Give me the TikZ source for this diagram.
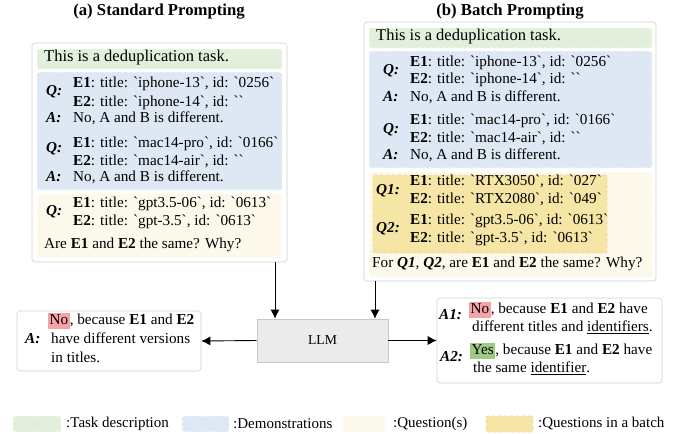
\documentclass[tikz,border=0pt]{standalone}
\usepackage{fontspec}
\setmainfont{Liberation Serif}
\usepackage{tikz}
\usetikzlibrary{arrows.meta}
\definecolor{taskgreen}{HTML}{E2EFDA}
\definecolor{demoblue}{HTML}{DEE8F4}
\definecolor{quesyellow}{HTML}{FDF9EA}
\definecolor{batchorange}{HTML}{F6E6A6}
\definecolor{batchline}{HTML}{F9CDA8}
\definecolor{noRed}{HTML}{F4A4A4}
\definecolor{yesGreen}{HTML}{9DCB86}
\newcommand{\bq}{\textasciigrave}
\newcommand{\bodyfont}{\fontsize{15.2}{18}\selectfont}
\newcommand{\hl}[2]{{\setlength{\fboxsep}{1.5pt}\colorbox{#1}{\vphantom{Ng}#2}}}
\tikzset{
	outerbox/.style={draw=black!18, rounded corners=3pt, line width=0.6pt, fill=white, inner sep=0pt},
	band/.style={draw=white, dashed, rounded corners=2pt, line width=0.7pt, inner sep=0pt},
	taskband/.style={band, fill=taskgreen},
	demoband/.style={band, fill=demoblue},
	quesband/.style={band, fill=quesyellow},
	batchband/.style={band, fill=batchorange, draw=batchline},
	txt/.style={anchor=west, inner sep=0pt, text height=0.7em, text depth=0.2em, font=\bodyfont},
	lab/.style={txt, font=\bodyfont\bfseries\itshape},
	title/.style={inner sep=0pt, font=\fontsize{16.7}{20}\selectfont\bfseries},
	legtxt/.style={anchor=west, inner sep=0pt, font=\fontsize{15}{18}\selectfont},
	arr/.style={line width=0.9pt, -{Latex[length=9pt,width=9pt]}},
}

\begin{document}
\begin{tikzpicture}[x=1pt,y=-1pt]
	\useasboundingbox (0,0) rectangle (678,434);
	\node[title] (tstd) at (159,12) {(a) Standard Prompting};
	\node[title] (tbat) at (510,12) {(b) Batch Prompting};

	% standard prompting
	\node[outerbox, minimum width=255, minimum height=219] (stdbox) at (159.5,152.5) {};
	\node[taskband, minimum width=245, minimum height=20] (stdtask) at (159.5,59) {};
	\node[demoband, minimum width=245, minimum height=118] (stddemo) at (159.5,131) {};
	\node[quesband, minimum width=245, minimum height=64] (stdques) at (159.5,226) {};
	\node[txt, font=\fontsize{16.5}{19}\selectfont] (stdt) at (44,59) {This is a deduplication task.};
	\node[lab] (sq1) at (46,93) {Q:};
	\node[txt] (sq1a) at (73,85) {\textbf{E1}: title: \bq iphone-13\bq, id: \bq 0256\bq};
	\node[txt] (sq1b) at (73,104) {\textbf{E2}: title: \bq iphone-14\bq, id: \bq\bq};
	\node[lab] (sa1) at (46,120) {A:};
	\node[txt] (sa1t) at (73,120) {No, A and B is different.};
	\node[lab] (sq2) at (46,150) {Q:};
	\node[txt] (sq2a) at (73,145) {\textbf{E1}: title: \bq mac14-pro\bq, id: \bq 0166\bq};
	\node[txt] (sq2b) at (73,163) {\textbf{E2}: title: \bq mac14-air\bq, id: \bq\bq};
	\node[lab] (sa2) at (46,179) {A:};
	\node[txt] (sa2t) at (73,179) {No, A and B is different.};
	\node[lab] (sq3) at (46,213) {Q:};
	\node[txt] (sq3a) at (73,205) {\textbf{E1}: title: \bq gpt3.5-06\bq, id: \bq 0613\bq};
	\node[txt] (sq3b) at (73,223) {\textbf{E2}: title: \bq gpt-3.5\bq, id: \bq 0613\bq};
	\node[txt] (sask) at (44,246) {Are \textbf{E1} and \textbf{E2} the same? Why?};

	% batch prompting
	\node[outerbox, minimum width=292, minimum height=259] (batbox) at (510,151.5) {};
	\node[taskband, minimum width=283, minimum height=20] (battask) at (510.5,38) {};
	\node[demoband, minimum width=283, minimum height=117] (batdemo) at (510.5,109.5) {};
	\node[quesband, minimum width=283, minimum height=105] (batques) at (510.5,224.5) {};
	\node[batchband, minimum width=234, minimum height=78] (batin) at (490,214) {};
	\node[txt, font=\fontsize{16.5}{19}\selectfont] (batt) at (376,38) {This is a deduplication task.};
	\node[lab] (bq1) at (383,72) {Q:};
	\node[txt] (bq1a) at (410,64) {\textbf{E1}: title: \bq iphone-13\bq, id: \bq 0256\bq};
	\node[txt] (bq1b) at (410,81) {\textbf{E2}: title: \bq iphone-14\bq, id: \bq\bq};
	\node[lab] (ba1) at (383,99) {A:};
	\node[txt] (ba1t) at (410,99) {No, A and B is different.};
	\node[lab] (bq2) at (383,131) {Q:};
	\node[txt] (bq2a) at (410,122) {\textbf{E1}: title: \bq mac14-pro\bq, id: \bq 0166\bq};
	\node[txt] (bq2b) at (410,140) {\textbf{E2}: title: \bq mac14-air\bq, id: \bq\bq};
	\node[lab] (ba2) at (383,157) {A:};
	\node[txt] (ba2t) at (410,157) {No, A and B is different.};
	\node[lab] (bqa) at (376,192) {Q1:};
	\node[txt] (bqaa) at (410,183) {\textbf{E1}: title: \bq RTX3050\bq, id: \bq 027\bq};
	\node[txt] (bqab) at (410,201) {\textbf{E2}: title: \bq RTX2080\bq, id: \bq 049\bq};
	\node[lab] (bqb) at (376,230) {Q2:};
	\node[txt] (bqba) at (410,222) {\textbf{E1}: title: \bq gpt3.5-06\bq, id: \bq 0613\bq};
	\node[txt] (bqbb) at (410,240) {\textbf{E2}: title: \bq gpt-3.5\bq, id: \bq 0613\bq};
	\node[txt] (bask) at (372,265) {For \textbf{\textit{Q1}}, \textbf{\textit{Q2}}, are \textbf{E1} and \textbf{E2} the same? Why?};

	% model and answers
	\node[draw=black!22, fill=black!8, line width=0.6pt, minimum width=131, minimum height=43, font=\fontsize{13.7}{16}\selectfont] (llm) at (322.5,340.5) {LLM};
	\node[outerbox, minimum width=184, minimum height=60] (ansa) at (109,341) {};
	\node[lab] (aa) at (25,341) {A:};
	\node[txt] (aa1) at (48,322) {\hl{noRed}{No}, because \textbf{E1} and \textbf{E2}};
	\node[txt] (aa2) at (51,341) {have different versions};
	\node[txt] (aa3) at (51,360) {in titles.};
	\node[outerbox, minimum width=225, minimum height=85] (ansb) at (549.5,340.5) {};
	\node[lab] (ab1) at (439,317) {A1:};
	\node[txt] (ab1a) at (469,311) {\hl{noRed}{No}, because \textbf{E1} and \textbf{E2} have};
	\node[txt] (ab1b) at (472,329) {different titles and \underline{identifiers}.};
	\node[lab] (ab2) at (440,359) {A2:};
	\node[txt] (ab2a) at (470,352) {\hl{yesGreen}{Yes}, because \textbf{E1} and \textbf{E2} have};
	\node[txt] (ab2b) at (473,370) {the same \underline{identifier}.};

	\draw[arr] ([xshift=-47.5pt]llm.north |- stdbox.south) -- ([xshift=-47.5pt]llm.north);
	\draw[arr] ([xshift=52.5pt]llm.north |- batbox.south) -- ([xshift=52.5pt]llm.north);
	\draw[arr] (llm.west) -- (ansa.east);
	\draw[arr] (llm.east) -- (ansb.west);

	% legend
	\node[taskband, minimum width=48, minimum height=16] (ltask) at (37,424) {};
	\node[legtxt] (ltaskt) at (66,424) {:Task description};
	\node[demoband, minimum width=47, minimum height=16] (ldemo) at (205.5,424) {};
	\node[legtxt] (ldemot) at (233,424) {:Demonstrations};
	\node[quesband, minimum width=42, minimum height=16] (lques) at (364,424) {};
	\node[legtxt] (lquest) at (393,424) {:Question(s)};
	\node[batchband, minimum width=47, minimum height=16] (lbatch) at (509.5,424) {};
	\node[legtxt] (lbatcht) at (538,424) {:Questions in a batch};
\end{tikzpicture}
\end{document}
